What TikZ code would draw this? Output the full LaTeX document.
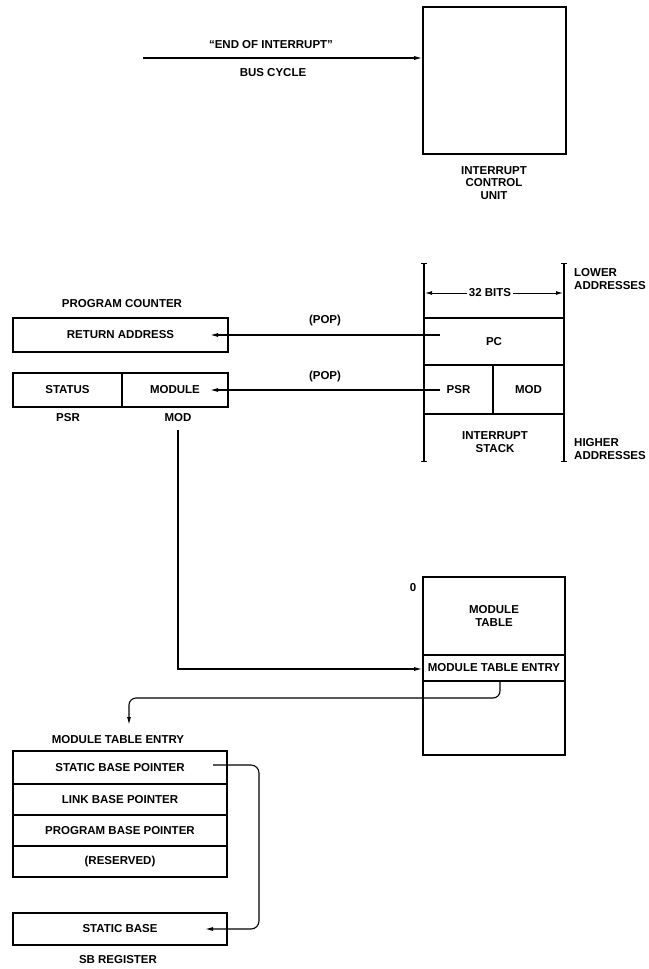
\documentclass[tikz,border=0pt]{standalone}
\usepackage{fontspec}
\setmainfont{Liberation Sans}
\usetikzlibrary{arrows.meta}
\usetikzlibrary{positioning}

\tikzset{
  reg/.style={draw, line width=1.6pt, inner sep=1pt, font=\fontsize{11.5}{12.5}\bfseries\selectfont},
  lbl/.style={inner sep=0pt, align=center, font=\fontsize{11.5}{12.5}\bfseries\selectfont},
  wire/.style={line width=1.1pt, -{Latex[length=8pt,width=4pt]}},
  brk/.style={line width=1.8pt}
}

\begin{document}
\begin{tikzpicture}[x=1pt, y=-1pt]
        \useasboundingbox (0,0) rectangle (648,969);

        % interrupt control unit
        \node[reg, minimum width=143, minimum height=147] (icu) at (494.5,80.5) {};
        \node[lbl] (icutxt) at (494,183) {INTERRUPT\\CONTROL\\UNIT};
        \coordinate (eoi) at (143,58);
        \draw[wire] (eoi) -- (eoi -| icu.west);
        \node[lbl] (eoitxt) at (271,45) {``END OF INTERRUPT''};
        \node[lbl] (bustxt) at (273,73) {BUS CYCLE};

        % interrupt stack
        \node[reg, minimum width=140, minimum height=47] (pc) at (494,341.5) {PC};
        \node[reg, minimum width=69, minimum height=49] (spsr) at (458.5,389.5) {PSR};
        \node[reg, minimum width=71, minimum height=49] (smod) at (528.5,389.5) {MOD};
        \draw[brk] (424,263) -- (424,461);
        \draw[brk] (564,263) -- (564,461);
        \draw[line width=1pt] (421,263) -- (427,263) (421,461) -- (427,461);
        \draw[line width=1pt] (561,263) -- (567,263) (561,461) -- (567,461);
        \node[lbl, fill=white, inner sep=2pt] (bits) at (490,293) {32 BITS};
        \draw[line width=1pt, -{Latex[length=7pt,width=4pt]}] (bits.west) -- (425,293);
        \draw[line width=1pt, -{Latex[length=7pt,width=4pt]}] (bits.east) -- (563,293);
        \node[lbl] (stacktxt) at (495,442) {INTERRUPT\\STACK};
        \node[lbl, anchor=west, align=left] (lowtxt) at (574,279) {LOWER\\ADDRESSES};
        \node[lbl, anchor=west, align=left] (hightxt) at (574,449) {HIGHER\\ADDRESSES};

        % registers
        \node[lbl] (pctxt) at (122,304) {PROGRAM COUNTER};
        \node[reg, minimum width=215, minimum height=34] (retaddr) at (120.5,335) {RETURN ADDRESS};
        \node[reg, minimum width=109, minimum height=34] (status) at (67.5,390) {STATUS};
        \node[reg, minimum width=106, minimum height=34] (module) at (175,390) {MODULE};
        \node[lbl] (psrtxt) at (68,418) {PSR};
        \node[lbl] (modtxt) at (178,418) {MOD};

        \coordinate (pcsrc) at (440,335);
        \coordinate (pcdst) at (210,335);
        \coordinate (psrsrc) at (440,390);
        \coordinate (psrdst) at (210,390);
        \draw[wire] (pcsrc) -- (pcdst) node[lbl, midway, above=9pt] {(POP)};
        \draw[wire] (psrsrc) -- (psrdst) node[lbl, midway, above=8pt] {(POP)};

        % module table
        \node[reg, minimum width=142, minimum height=78] (mtab) at (494,616) {};
        \node[lbl] (mtabtxt) at (494,616) {MODULE\\TABLE};
        \node[reg, minimum width=142, minimum height=26] (mentry) at (494,668) {MODULE TABLE ENTRY};
        \node[reg, minimum width=142, minimum height=74] (mrest) at (494,718) {};
        \node[lbl] (zero) at (413,588) {0};

        \coordinate (modsrc) at (178,430);
        \draw[wire] (modsrc) -- (178,669) -- (mentry.west |- 0,669);
        \coordinate (entsrc) at (500,681);
        \coordinate (entdst) at (129,725);
        \draw[wire, rounded corners=7pt] (entsrc) -- (500,698) -- (129,698) -- (entdst);

        % module table entry
        \node[lbl] (mtetxt) at (118,740) {MODULE TABLE ENTRY};
        \node[reg, minimum width=214, minimum height=33] (sbp) at (120,767.5) {STATIC BASE POINTER};
        \node[reg, minimum width=214, minimum height=31] (lbp) at (120,799.5) {LINK BASE POINTER};
        \node[reg, minimum width=214, minimum height=31] (pbp) at (120,830.5) {PROGRAM BASE POINTER};
        \node[reg, minimum width=214, minimum height=31] (resv) at (120,861.5) {(RESERVED)};

        \node[reg, minimum width=214, minimum height=32] (sb) at (120,929) {STATIC BASE};
        \node[lbl] (sbtxt) at (118,960) {SB REGISTER};

        \coordinate (sbsrc) at (213,765);
        \coordinate (sbdst) at (205,929);
        \draw[wire, rounded corners=8pt] (sbsrc) -- (259,765) -- (259,929) -- (sbdst);
      \end{tikzpicture}
\end{document}
